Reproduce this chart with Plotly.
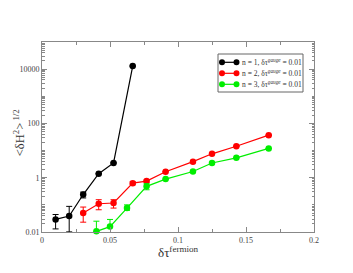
import plotly.graph_objects as go

# ---- data ----
x_n1 = [0.01, 0.02, 0.0303, 0.0417, 0.0526, 0.0667]
y_n1 = [0.029, 0.039, 0.24, 1.4, 3.5, 13000]
errp_n1 = [0.015, 0.049, 0.055, 0.0, 0.0, 0.0]
errm_n1 = [0.016, 0.0289, 0.06, 0.0, 0.0, 0.0]

x_n2 = [0.0303, 0.0417, 0.0526, 0.0667, 0.0769, 0.0909, 0.111, 0.125, 0.1429, 0.1667]
y_n2 = [0.05, 0.11, 0.117, 0.63, 0.75, 1.66, 3.9, 7.6, 14.4, 37]
errp_n2 = [0.033, 0.045, 0.038, 0.08, 0.06, 0.0, 0.0, 0.0, 0.0, 0.0]
errm_n2 = [0.027, 0.044, 0.041, 0.08, 0.06, 0.0, 0.0, 0.0, 0.0, 0.0]

x_n3 = [0.04, 0.05, 0.0625, 0.0769, 0.0909, 0.111, 0.125, 0.1429, 0.1667]
y_n3 = [0.0106, 0.0158, 0.076, 0.48, 0.89, 1.7, 3.5, 5.4, 12]
errp_n3 = [0.0144, 0.0132, 0.024, 0.12, 0.0, 0.0, 0.0, 0.0, 0.0]
errm_n3 = [0.0, 0.0, 0.013, 0.12, 0.0, 0.0, 0.0, 0.0, 0.0]

names = ["n = 1, δτ<sup><i>gauge</i></sup> = 0.01",
         "n = 2, δτ<sup><i>gauge</i></sup> = 0.01",
         "n = 3, δτ<sup><i>gauge</i></sup> = 0.01"]
colors = ["#000000", "#ff0000", "#00ee00"]

x_ticks = [0, 0.05, 0.1, 0.15, 0.2]
x_ticklabels = ["0", "0.05", "0.1", "0.15", "0.2"]
y_ticks = [0.01, 1, 100, 10000]
y_ticklabels = ["0.01", "1", "100", "10000"]

FONT = "Liberation Serif"
TXT = "#333333"

fig = go.Figure()
series = [(x_n1, y_n1, errp_n1, errm_n1), (x_n2, y_n2, errp_n2, errm_n2), (x_n3, y_n3, errp_n3, errm_n3)]
for (xs, ys, ep, em), name, c in zip(series, names, colors):
    fig.add_trace(go.Scatter(
        x=xs, y=ys, name=name, mode="lines+markers", showlegend=False,
        line=dict(color=c, width=1.2),
        marker=dict(color=c, size=6.5, symbol="circle"),
        error_y=dict(type="data", symmetric=False, array=ep, arrayminus=em,
                     color=c, thickness=1, width=3),
        cliponaxis=False,
    ))

minor_y = []
for k in range(-2, 5):
    for m in range(2, 10):
        minor_y.append(m * 10 ** k)
minor_y += [0.1, 10, 1000]

# ---- manual compact legend (paper coords; plot area 272x190 px, window coords) ----
PW, PH = 272.0, 190.0
def px(xp):
    return (xp - 42) / PW
def py(yp):
    return (232 - yp) / PH

shapes = [dict(type="rect", xref="paper", yref="paper",
               x0=px(218), x1=px(303), y0=py(92), y1=py(54),
               line=dict(color="#666666", width=1), fillcolor="white", layer="above")]
annotations = []
row_y = [62.3, 73.3, 84.3]
for name, c, ry in zip(names, colors, row_y):
    shapes.append(dict(type="line", xref="paper", yref="paper",
                       x0=px(222), x1=px(236.5), y0=py(ry), y1=py(ry),
                       line=dict(color=c, width=1.2), layer="above"))
    for cx in (222, 236.5):
        shapes.append(dict(type="circle", xref="paper", yref="paper",
                           xsizemode="pixel", ysizemode="pixel",
                           xanchor=px(cx), yanchor=py(ry),
                           x0=-3, x1=3, y0=-3, y1=3,
                           fillcolor=c, line=dict(color=c, width=0), layer="above"))
    annotations.append(dict(xref="paper", yref="paper", x=px(239.5), y=py(ry),
                            xanchor="left", yanchor="middle", showarrow=False,
                            text=name, font=dict(family=FONT, size=7.5, color=TXT)))

# axis titles
annotations.append(dict(xref="paper", yref="paper", x=0, y=0.52, xshift=-33,
                        xanchor="left", yanchor="middle", textangle=-90, showarrow=False,
                        text="<δH<sup>2</sup>><sup> 1/2</sup>",
                        font=dict(family=FONT, size=12.5, color=TXT)))
annotations.append(dict(xref="paper", yref="paper", x=0.5, y=0, yshift=-20,
                        xanchor="center", yanchor="middle", showarrow=False,
                        text="δτ<sup>fermion</sup>",
                        font=dict(family=FONT, size=13, color=TXT)))

axcol = "#888888"
# page body has an 8px margin; size/margins compensate so the plot area sits at
# x 42..314, y 42..232 in the 353x273 window
fig.update_layout(
    width=345, height=265,
    margin=dict(l=34, r=39, t=34, b=41),
    paper_bgcolor="white", plot_bgcolor="white",
    font=dict(family=FONT, color=TXT, size=8),
    showlegend=False,
    shapes=shapes, annotations=annotations,
)
fig.update_xaxes(
    range=[0, 0.2], tickvals=x_ticks, ticktext=x_ticklabels,
    ticks="inside", ticklen=5, tickcolor=axcol, showline=True, linecolor=axcol,
    linewidth=1, mirror="ticks", showgrid=False, zeroline=False,
    tickfont=dict(family=FONT, size=8, color="#444444"),
    minor=dict(tickvals=[0.025, 0.075, 0.125, 0.175], ticks="inside", ticklen=3,
               tickcolor=axcol, showgrid=False),
)
fig.update_yaxes(
    type="log", range=[-2, 5], tickvals=y_ticks, ticktext=y_ticklabels,
    ticks="inside", ticklen=5, tickcolor=axcol, showline=True, linecolor=axcol,
    linewidth=1, mirror="ticks", showgrid=False, zeroline=False,
    tickfont=dict(family=FONT, size=8, color="#444444"),
    minor=dict(tickvals=minor_y, ticks="inside", ticklen=2.5, tickcolor=axcol, showgrid=False),
)

fig.write_html("out.html")
